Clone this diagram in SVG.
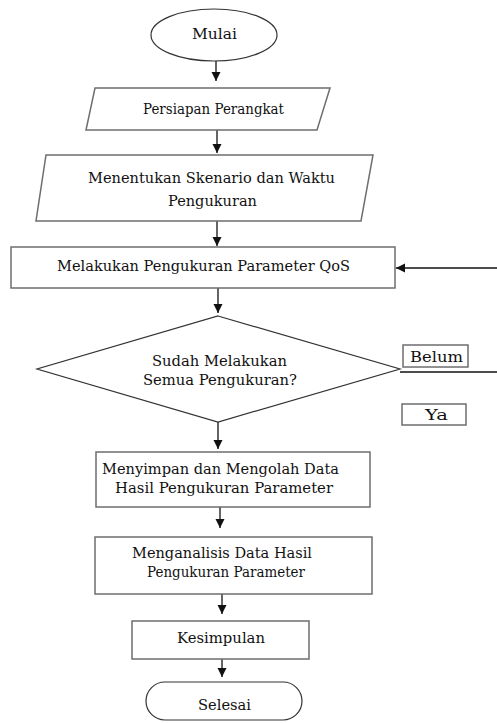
<svg xmlns="http://www.w3.org/2000/svg" width="497" height="724" viewBox="0 0 497 724">
<style>
.box{fill:#fff;stroke:#6e6e6e;stroke-width:1.5}
.term{fill:#fff;stroke:#333;stroke-width:1.2}
.ln{fill:none;stroke:#111;stroke-width:1.3}
.t{font-family:'DejaVu Serif','Liberation Serif',serif;font-size:14px;fill:#111;text-anchor:middle}
</style>
<defs>
<marker id="ah" markerUnits="userSpaceOnUse" markerWidth="10" markerHeight="10" refX="9" refY="5" orient="auto">
<path d="M0,0.5 L9,5 L0,9.5 Z" fill="#111"/>
</marker>
</defs>
<rect width="497" height="724" fill="#fff"/>
<g id="connectors">
<line class="ln" x1="216" y1="61" x2="216" y2="81" marker-end="url(#ah)"/>
<line class="ln" x1="217" y1="130" x2="217" y2="153" marker-end="url(#ah)"/>
<line class="ln" x1="217" y1="221" x2="217" y2="246" marker-end="url(#ah)"/>
<line class="ln" x1="218" y1="288" x2="218" y2="313" marker-end="url(#ah)"/>
<line class="ln" x1="218" y1="422" x2="218" y2="449" marker-end="url(#ah)"/>
<line class="ln" x1="220" y1="507" x2="220" y2="528" marker-end="url(#ah)"/>
<line class="ln" x1="222" y1="594" x2="222" y2="614" marker-end="url(#ah)"/>
<line class="ln" x1="222" y1="659" x2="222" y2="677" marker-end="url(#ah)"/>
<line class="ln" x1="497" y1="268" x2="396" y2="268" marker-end="url(#ah)"/>
<line class="ln" x1="400" y1="372" x2="497" y2="372"/>
</g>
<g id="mulai">
<ellipse class="term" cx="214" cy="35" rx="63" ry="26"/>
<text class="t" x="214.5" y="39" textLength="45" lengthAdjust="spacingAndGlyphs">Mulai</text>
</g>
<g id="persiapan">
<polygon class="box" points="95,88 330,88 317,130 86,130"/>
<text class="t" x="213.5" y="114" textLength="141" lengthAdjust="spacingAndGlyphs">Persiapan Perangkat</text>
</g>
<g id="menentukan">
<polygon class="box" points="46,155 373,155 361,221 36,221"/>
<text class="t" x="211.5" y="183" textLength="247" lengthAdjust="spacingAndGlyphs">Menentukan Skenario dan Waktu</text>
<text class="t" x="212.5" y="206" textLength="89" lengthAdjust="spacingAndGlyphs">Pengukuran</text>
</g>
<g id="melakukan">
<rect class="box" x="11" y="247" width="384" height="41"/>
<text class="t" x="203.5" y="271" textLength="293" lengthAdjust="spacingAndGlyphs">Melakukan Pengukuran Parameter QoS</text>
</g>
<g id="decision">
<polygon class="term" points="218,316 400,369 218,422 37,369"/>
<text class="t" x="219.5" y="366" textLength="135" lengthAdjust="spacingAndGlyphs">Sudah Melakukan</text>
<text class="t" x="220" y="385" textLength="154" lengthAdjust="spacingAndGlyphs">Semua Pengukuran?</text>
</g>
<g id="belum">
<rect class="box" x="403" y="345" width="65" height="22"/>
<text class="t" x="436.5" y="362" textLength="53" lengthAdjust="spacingAndGlyphs">Belum</text>
</g>
<g id="ya">
<rect class="box" x="402" y="404" width="64" height="21"/>
<text class="t" x="436.5" y="420" textLength="23" lengthAdjust="spacingAndGlyphs">Ya</text>
</g>
<g id="menyimpan">
<rect class="box" x="96" y="452" width="274" height="55"/>
<text class="t" x="220.5" y="474" textLength="237" lengthAdjust="spacingAndGlyphs">Menyimpan dan Mengolah Data</text>
<text class="t" x="224" y="493" textLength="218" lengthAdjust="spacingAndGlyphs">Hasil Pengukuran Parameter</text>
</g>
<g id="menganalisis">
<rect class="box" x="95" y="537" width="277" height="57"/>
<text class="t" x="222" y="558" textLength="180" lengthAdjust="spacingAndGlyphs">Menganalisis Data Hasil</text>
<text class="t" x="226" y="577" textLength="158" lengthAdjust="spacingAndGlyphs">Pengukuran Parameter</text>
</g>
<g id="kesimpulan">
<rect class="box" x="132" y="621" width="177" height="38"/>
<text class="t" x="221" y="643" textLength="88" lengthAdjust="spacingAndGlyphs">Kesimpulan</text>
</g>
<g id="selesai">
<rect class="term" x="146" y="682" width="156" height="38" rx="19" ry="19"/>
<text class="t" x="224.5" y="710" textLength="53" lengthAdjust="spacingAndGlyphs">Selesai</text>
</g>
</svg>
